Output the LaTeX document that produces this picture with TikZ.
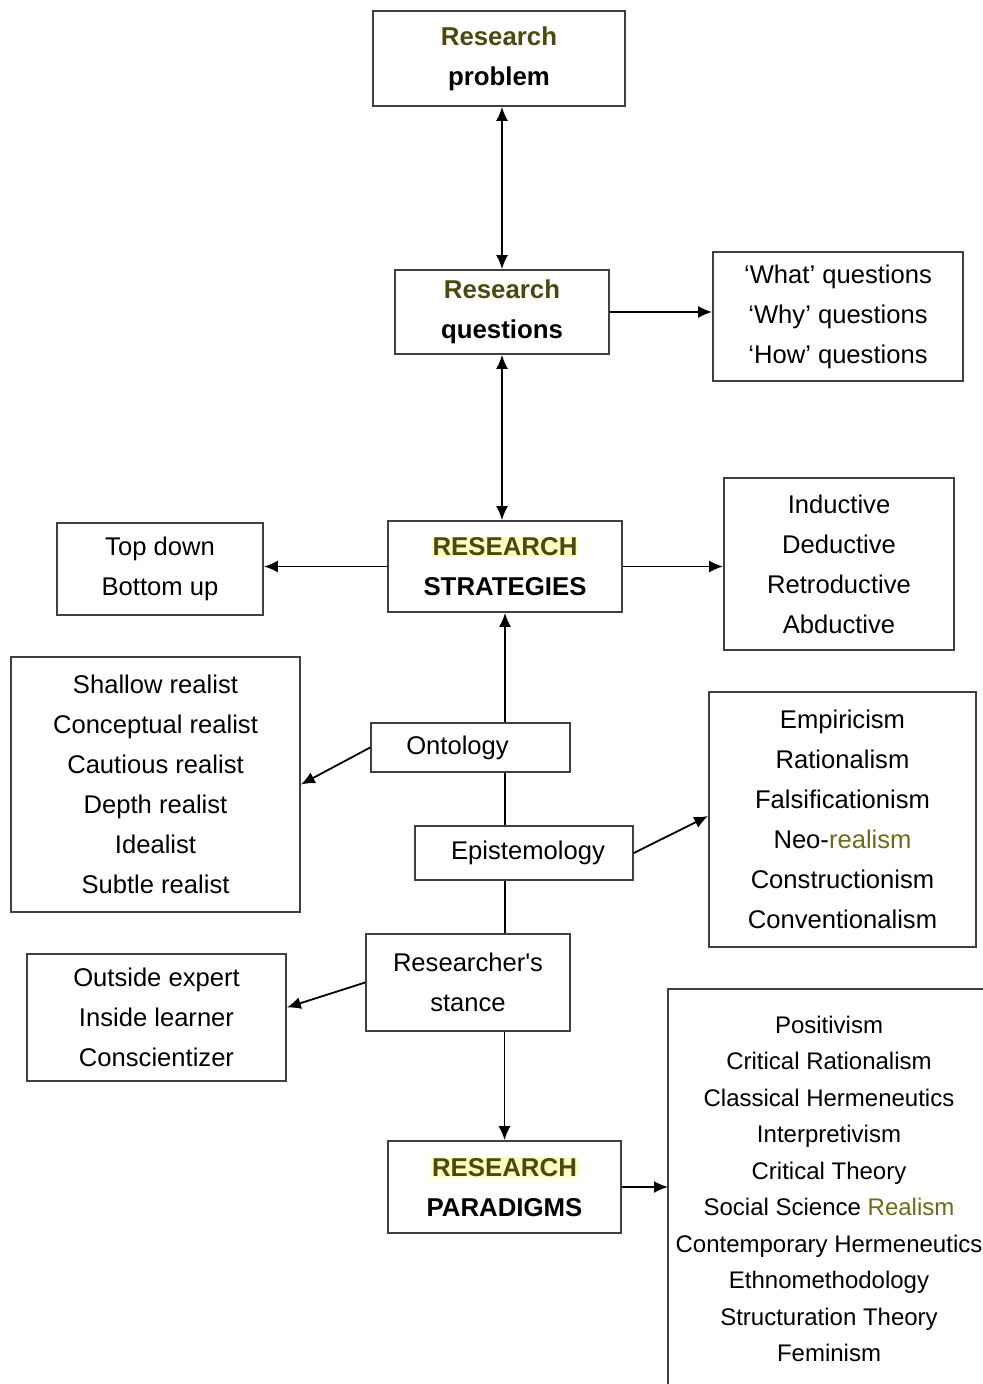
\documentclass[tikz,border=0pt]{standalone}
\usepackage{fontspec}
\setmainfont{Liberation Sans}
\usetikzlibrary{arrows.meta}
\definecolor{olivetxt}{HTML}{4A4A10}
\definecolor{olivelt}{HTML}{6B6B1E}
\definecolor{hilite}{HTML}{FFFFC4}
\definecolor{edge}{HTML}{404040}
\newcommand{\hlword}[1]{{\setlength{\fboxsep}{0.5pt}\colorbox{hilite}{#1}}}

\begin{document}
\begin{tikzpicture}[x=0.5pt,y=-0.5pt,
  box/.style={draw=edge,line width=0.85pt,rectangle,inner sep=0pt,align=center},
  sz/.style 2 args={minimum width=#1*0.5pt,minimum height=#2*0.5pt},
  title/.style={font=\fontsize{12.9}{20}\selectfont\bfseries},
  list/.style={font=\fontsize{12.8}{20}\selectfont},
  arr/.style={-{Latex[length=7pt,width=6pt]},line width=0.9pt},
  darr/.style={{Latex[length=7pt,width=6pt]}-{Latex[length=7pt,width=6pt]},line width=0.9pt},
  link/.style={line width=0.9pt}]
\useasboundingbox (0,0) rectangle (982,1384);

% central column
\node[box,title,sz={252}{95}] (prob) at (499,58.5)
  {\textcolor{olivetxt}{Research}\\problem};
\node[box,title,sz={214}{84}] (quest) at (502,312)
  {\textcolor{olivetxt}{Research}\\questions};
\node[box,title,sz={234}{91}] (strat) at (505,566.5)
  {\hlword{\textcolor{olivetxt}{RESEARCH}}\\STRATEGIES};
\node[box,list,sz={199}{49}] (onto) at (470.5,747.5)
  {Ontology\hspace*{13pt}};
\node[box,list,sz={218}{54}] (epis) at (524,853)
  {\hspace*{4pt}Epistemology};
\node[box,list,sz={204}{97}] (stance) at (468,982.5)
  {Researcher\textquotesingle s\\stance};
\node[box,title,sz={233}{92}] (par) at (504.5,1187)
  {\hlword{\textcolor{olivetxt}{RESEARCH}}\\PARADIGMS};

% side lists
\node[box,list,sz={250}{129}] (what) at (838,316.5)
  {‘What’ questions\\‘Why’ questions\\‘How’ questions};
\node[box,list,sz={206}{92}] (top) at (160,569)
  {Top down\\Bottom up};
\node[box,list,sz={230}{172}] (ind) at (839,564)
  {Inductive\\Deductive\\Retroductive\\Abductive};
\node[box,list,sz={289}{255}] (shallow) at (155.5,784.5)
  {Shallow realist\\Conceptual realist\\Cautious realist\\Depth realist\\Idealist\\Subtle realist};
\node[box,list,sz={267}{255}] (emp) at (842.5,819.5)
  {Empiricism\\Rationalism\\Falsificationism\\Neo-\textcolor{olivelt}{realism}\\Constructionism\\Conventionalism};
\node[box,list,sz={259}{127}] (outside) at (156.5,1017.5)
  {Outside expert\\Inside learner\\Conscientizer};

% open-ended paradigm list
\coordinate (plt) at (668,989);
\node[align=center,inner sep=0pt,font=\fontsize{12}{18.25}\selectfont] (plist) at (829,1189)
  {Positivism\\Critical Rationalism\\Classical Hermeneutics\\Interpretivism\\Critical Theory\\
   Social Science \textcolor{olivelt}{Realism}\\Contemporary Hermeneutics\\Ethnomethodology\\
   Structuration Theory\\Feminism};
\draw[draw=edge,line width=0.85pt] (plt |- 0,1400) -- (plt) -- (plt -| 990,0);

% connectors
\draw[darr] (quest.north |- prob.south) -- (quest.north);
\draw[darr] (quest.south) -- (quest.south |- strat.north);
\draw[arr] (quest.east) -- (quest.east -| what.west);
\draw[arr] (strat.west) -- (strat.west -| top.east);
\draw[arr] (strat.east) -- (strat.east -| ind.west);
\draw[arr] (onto.north -| strat.south) -- (strat.south);
\draw[arr] (onto.west) -- (shallow.east);
\draw[link] (onto.south -| strat.south) -- (epis.north -| strat.south);
\draw[arr] (epis.east) -- ([yshift=1.75pt]emp.west);
\draw[link] (epis.south -| strat.south) -- (stance.north -| strat.south);
\draw[arr] (stance.west) -- ([yshift=5pt]outside.east);
\draw[arr] (stance.south -| par.north) -- (par.north);
\draw[arr] (par.east) -- (par.east -| plt);
\end{tikzpicture}
\end{document}
